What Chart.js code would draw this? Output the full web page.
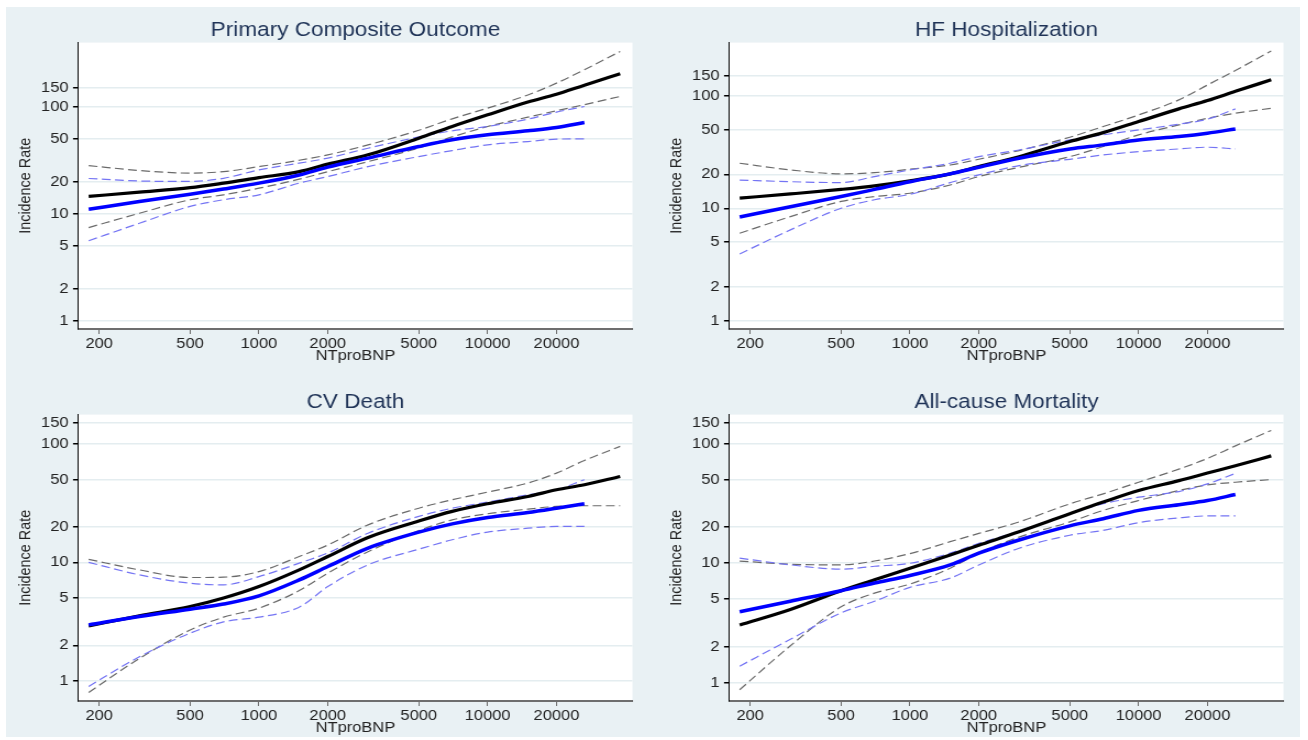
<!DOCTYPE html>
<html>
<head>
<meta charset="utf-8">
<script src="https://cdn.jsdelivr.net/npm/chart.js@4"></script>
<style>
html, body { margin: 0; padding: 0; background: #fff; overflow: hidden; width: 1308px; height: 740px; }
#bg { position: absolute; left: 6px; top: 7px; width: 1294px; height: 730px; background: #E9F1F4; }
canvas { position: absolute; transform: scaleX(1.1); transform-origin: 0 0; }
</style>
</head>
<body>
<div id="bg"></div>
<canvas id="c0" width="590" height="363" style="left:6px;top:7px"></canvas>
<canvas id="c1" width="590" height="363" style="left:656.5px;top:7px"></canvas>
<canvas id="c2" width="590" height="363" style="left:6px;top:379.3px"></canvas>
<canvas id="c3" width="590" height="363" style="left:656.5px;top:379.3px"></canvas>
<script>
const xBlue  = [180, 300, 500, 700, 1000, 1500, 2000, 3000, 5000, 7000, 10000, 15000, 20000, 26500]
const xBlack = [180, 300, 500, 700, 1000, 1500, 2000, 3000, 5000, 7000, 10000, 15000, 20000, 26500, 38000]
const xTicks = [200, 500, 1000, 2000, 5000, 10000, 20000]
const yTicks = [1, 2, 5, 10, 20, 50, 100, 150]
const titles = ['Primary Composite Outcome', 'HF Hospitalization', 'CV Death', 'All-cause Mortality']

// primary composite outcome
const pcoBlack   = [14.5, 15.9, 17.5, 19.3, 21.7, 24.7, 29.0, 35.4, 50.6, 65.1, 83.6, 110, 130, 158, 202]
const pcoBlackHi = [28.1, 25.3, 23.9, 24.7, 27.5, 31.5, 35.4, 43.8, 60.0, 76.7, 96.5, 128, 165, 220, 326]
const pcoBlackLo = [7.43, 10.1, 13.5, 15.0, 17.3, 21.0, 24.7, 30.6, 41.0, 52.0, 65.0, 79.5, 91.2, 104, 124]
const pcoBlue    = [11.0, 13.0, 15.2, 17.0, 19.3, 23.0, 27.2, 33.0, 42.3, 48.9, 54.4, 59.3, 63.7, 70.9]
const pcoBlueHi  = [21.3, 20.2, 20.0, 21.4, 25.6, 29.6, 33.0, 40.8, 52.0, 59.3, 65.1, 76.2, 88.5, 100]
const pcoBlueLo  = [5.6, 8.15, 11.7, 13.5, 15.0, 19.3, 22.2, 27.5, 34.1, 38.8, 43.9, 47.1, 49.6, 49.9]

// HF hospitalization
const hfBlack   = [12.3, 13.4, 14.7, 15.8, 17.5, 20.2, 23.4, 28.7, 39.1, 46.9, 58.8, 76.2, 90.3, 109, 138]
const hfBlackHi = [25.1, 21.9, 20.2, 20.7, 22.2, 24.2, 27.2, 32.5, 42.7, 53.1, 67.3, 91.5, 124, 167, 249]
const hfBlackLo = [6.0, 8.43, 11.5, 12.7, 13.6, 16.1, 19.1, 23.1, 28.7, 35.3, 44.8, 54.9, 62.9, 69.7, 77.2]
const hfBlue    = [8.38, 10.3, 12.7, 14.7, 17.2, 20.2, 23.1, 27.8, 33.6, 36.5, 40.4, 43.3, 46.3, 50.6]
const hfBlueHi  = [17.8, 17.2, 16.9, 19.1, 21.9, 25.1, 28.7, 32.9, 40.4, 44.8, 49.6, 55.7, 61.7, 76.2]
const hfBlueLo  = [3.93, 6.43, 10.0, 11.9, 13.3, 16.9, 19.8, 23.9, 27.2, 29.7, 31.8, 33.6, 34.8, 33.6]

// CV death
const cvBlack   = [2.91, 3.54, 4.24, 5.0, 6.25, 8.64, 11.2, 16.2, 22.3, 26.9, 31.2, 35.9, 40.9, 45.1, 53.0]
const cvBlackHi = [10.6, 8.64, 7.45, 7.5, 8.36, 11.2, 14.0, 20.7, 28.6, 33.7, 39.1, 46.6, 56.5, 72.3, 94.9]
const cvBlackLo = [0.80, 1.55, 2.69, 3.45, 4.11, 5.78, 8.11, 12.3, 18.5, 22.8, 25.7, 28.1, 29.6, 30.0, 30.0]
const cvBlue    = [2.97, 3.49, 4.03, 4.45, 5.22, 7.11, 9.22, 13.2, 18.0, 21.1, 23.9, 26.3, 28.6, 31.2]
const cvBlueHi  = [10.0, 7.84, 6.67, 6.46, 7.59, 9.84, 12.0, 17.6, 24.4, 28.6, 32.2, 37.1, 40.9, 49.7]
const cvBlueLo  = [0.90, 1.60, 2.53, 3.15, 3.45, 4.19, 6.25, 9.53, 12.9, 15.5, 18.0, 19.4, 20.1, 20.1]

// all-cause mortality
const acmBlack   = [3.03, 4.09, 5.87, 7.25, 9.06, 11.7, 14.1, 18.3, 25.9, 32.4, 40.5, 49.0, 56.7, 65.3, 79.0]
const acmBlackHi = [10.4, 9.78, 9.66, 10.4, 12.0, 15.1, 17.7, 22.1, 31.3, 38.0, 47.5, 61.2, 75.1, 95.7, 129]
const acmBlackLo = [0.87, 2.03, 4.3, 5.6, 6.67, 9.06, 12.1, 16.5, 22.1, 27.6, 33.4, 40.5, 45.1, 47.5, 50.0]
const acmBlue    = [3.91, 4.79, 5.87, 6.80, 7.87, 9.64, 12.1, 15.6, 20.5, 23.5, 27.6, 30.8, 33.4, 37.5]
const acmBlueHi  = [11.0, 9.66, 8.89, 9.4, 9.96, 12.1, 14.6, 18.5, 26.0, 31.4, 35.6, 39.7, 46.0, 56.4]
const acmBlueLo  = [1.37, 2.30, 3.83, 4.79, 6.26, 7.48, 9.64, 13.3, 17.1, 18.8, 21.8, 23.9, 24.8, 24.8]

const panels = [
    {blk: pcoBlack, blkHi: pcoBlackHi, blkLo: pcoBlackLo, blu: pcoBlue, bluHi: pcoBlueHi, bluLo: pcoBlueLo, ymin: 0.842, ymax: 394},
    {blk: hfBlack, blkHi: hfBlackHi, blkLo: hfBlackLo, blu: hfBlue, bluHi: hfBlueHi, bluLo: hfBlueLo, ymin: 0.849, ymax: 295},
    {blk: cvBlack, blkHi: cvBlackHi, blkLo: cvBlackLo, blu: cvBlue, bluHi: cvBlueHi, bluLo: cvBlueLo, ymin: 0.678, ymax: 176},
    {blk: acmBlack, blkHi: acmBlackHi, blkLo: acmBlackLo, blu: acmBlue, bluHi: acmBlueHi, bluLo: acmBlueLo, ymin: 0.741, ymax: 175}
]

const FONT = "'Liberation Sans', Arial, sans-serif"

function pts(xs, ys){
    return xs.map((x, i) => ({x: x, y: ys[i]}))
}

function line(data, color, width, dash){
    return {
        data: data,
        borderColor: color,
        borderWidth: width,
        borderDash: dash || [],
        pointRadius: 0,
        fill: false,
        cubicInterpolationMode: 'monotone'
    }
}

// white plot region
const plotBg = {
    id: 'plotBg',
    beforeDraw(chart){
        const a = chart.chartArea
        const c = chart.ctx
        c.save()
        c.fillStyle = '#fff'
        c.fillRect(a.left, a.top, a.right - a.left, a.bottom - a.top)
        c.restore()
    }
}

panels.forEach((p, i) => {
    const ctx = document.getElementById('c' + i).getContext('2d')
    new Chart(ctx, {
        type: 'line',
        data: {
            datasets: [
                line(pts(xBlue, p.blu), '#0000FF', 3.5),
                line(pts(xBlack, p.blk), '#000000', 3.2),
                line(pts(xBlue, p.bluHi), '#7474F4', 1.2, [8, 4]),
                line(pts(xBlue, p.bluLo), '#7474F4', 1.2, [8, 4]),
                line(pts(xBlack, p.blkHi), '#6A6A6A', 1.2, [8, 4]),
                line(pts(xBlack, p.blkLo), '#6A6A6A', 1.2, [8, 4])
            ]
        },
        options: {
            responsive: false,
            animation: false,
            layout: {padding: {left: 0, right: 20.5, top: 0, bottom: 0}},
            plugins: {
                legend: {display: false},
                tooltip: {enabled: false},
                title: {
                    display: true,
                    text: titles[i],
                    fullSize: false,
                    color: '#1F3357',
                    font: {family: FONT, size: 20.5, weight: 'normal', lineHeight: 1.2},
                    padding: {top: 11, bottom: 0}
                }
            },
            scales: {
                x: {
                    type: 'logarithmic',
                    min: 162.5,
                    max: 43000,
                    afterBuildTicks: s => { s.ticks = xTicks.map(v => ({value: v})) },
                    afterFit: s => { s.height = 41 },
                    ticks: {
                        autoSkip: false,
                        maxRotation: 0,
                        padding: 1,
                        color: '#222',
                        font: {family: FONT, size: 15},
                        callback: v => String(v)
                    },
                    grid: {drawOnChartArea: false, tickLength: 5, tickColor: '#6e6e6e', lineWidth: 1},
                    border: {color: '#6e6e6e', width: 2},
                    title: {
                        display: true,
                        text: 'NTproBNP',
                        color: '#222',
                        font: {family: FONT, size: 15, lineHeight: 1.2},
                        padding: {top: 0, bottom: 5}
                    }
                },
                y: {
                    type: 'logarithmic',
                    min: p.ymin,
                    max: p.ymax,
                    afterBuildTicks: s => { s.ticks = yTicks.map(v => ({value: v})) },
                    afterFit: s => { s.width = 65.9 },
                    ticks: {
                        autoSkip: false,
                        padding: 4,
                        color: '#222',
                        font: {family: FONT, size: 15},
                        callback: v => String(v)
                    },
                    grid: {color: '#E4EDF0', lineWidth: 1.5, tickLength: 5, tickColor: '#000'},
                    border: {color: '#000', width: 1},
                    title: {
                        display: true,
                        text: 'Incidence Rate',
                        color: '#222',
                        font: {family: FONT, size: 14.4, lineHeight: 1.2},
                        padding: {top: 9, bottom: 0}
                    }
                }
            }
        },
        plugins: [plotBg]
    })
})
</script>
</body>
</html>
